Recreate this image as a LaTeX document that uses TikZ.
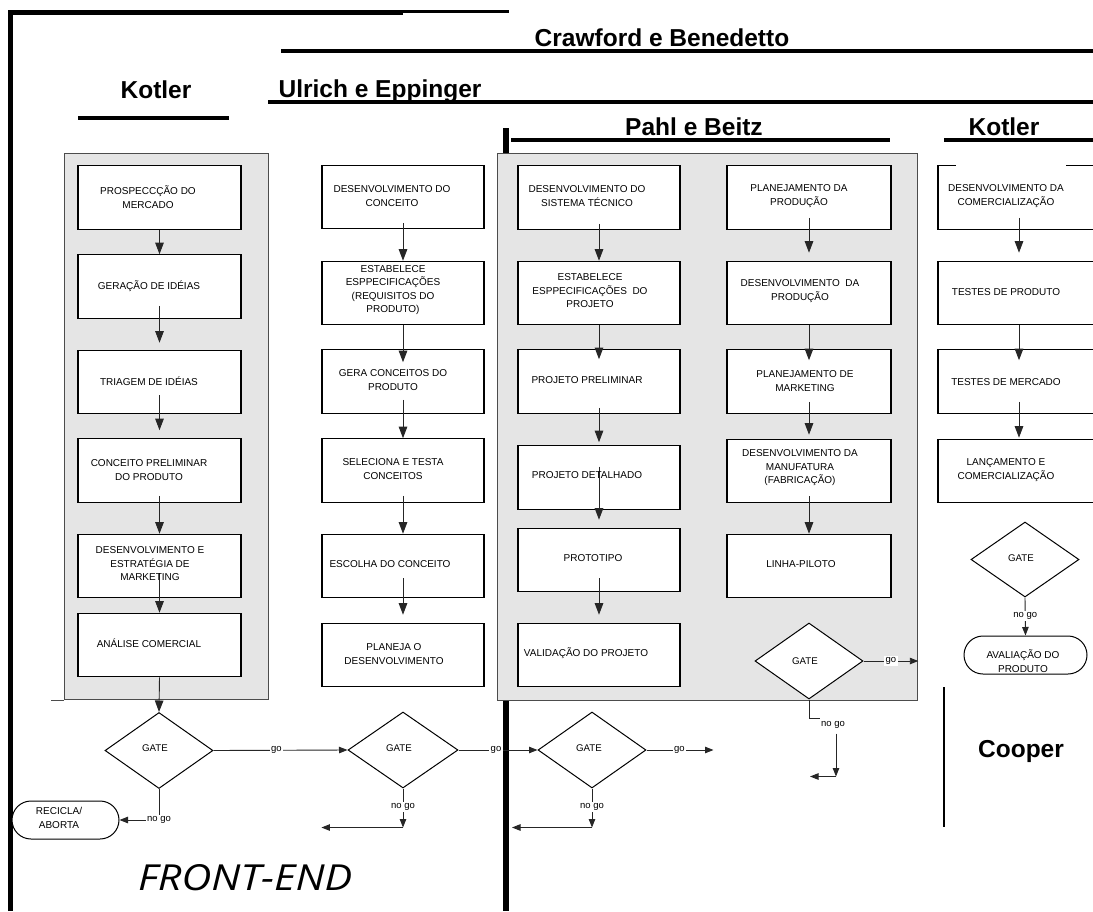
\documentclass[tikz,border=0pt]{standalone}
\usepackage{fontspec}
\usepackage{graphicx}
\setmainfont{Liberation Sans}
\newfontfamily\handfont{Open Sans}
\usetikzlibrary{arrows.meta,shapes.geometric,calc}

\tikzset{
  procbox/.style={draw=black, line width=1.1pt, fill=white, minimum width=163pt,
    minimum height=63.5pt, inner sep=0pt},
  steptext/.style={font=\fontsize{10}{13.5}\selectfont, align=center, inner sep=0pt},
  gatetext/.style={font=\fontsize{9.7}{12}\selectfont, inner sep=0pt},
  gate/.style={diamond, draw=black, line width=1pt, fill=white, minimum width=108pt,
    minimum height=76pt, inner sep=0pt},
  stage/.style={draw=black!70, line width=1.3pt, fill=black!10, inner sep=0pt},
  heading/.style={font=\fontsize{24.5}{28}\selectfont\bfseries, inner sep=0pt},
  headrule/.style={line width=4.5pt},
  flow/.style={draw=black!85, line width=0.9pt, -{Triangle[length=11.5pt,width=8.5pt]}},
  flowsm/.style={draw=black!85, line width=0.9pt, -{Triangle[length=8.5pt,width=6.5pt]}},
  plainline/.style={draw=black!85, line width=0.9pt},
  golabel/.style={font=\fontsize{9.5}{10}\selectfont, fill=white, inner sep=1.5pt},
  term/.style={draw=black, line width=1pt, rounded corners=19pt, minimum width=107pt,
    minimum height=38pt, inner sep=0pt, fill=white},
}

\begin{document}
\begin{tikzpicture}[x=1pt,y=-1pt]
\useasboundingbox (0,0) rectangle (1093,911);

% outer frame and the heavy divider
\draw[line width=5pt] (10.5,911) -- (10.5,12.5) -- (403,12.5);
\draw[line width=2.7pt] (403,11.35) -- (509,11.35);
\draw[line width=5.5pt] (506,128) -- (506,911);

% headings with their rules
\node[heading, anchor=base] (crawford) at (662,46) {Crawford e Benedetto};
\draw[headrule] (281,51) -- (1100,51);
\node[heading, anchor=base] (ulrich) at (380,97) {Ulrich e Eppinger};
\draw[headrule] (268,102) -- (1100,102);
\node[heading, anchor=base] (kotlerA) at (156,98) {Kotler};
\draw[headrule] (78,118) -- (229,118);
\node[heading, anchor=base] (pahl) at (694,135) {Pahl e Beitz};
\draw[headrule] (511,140) -- (890,140);
\node[heading, anchor=base] (kotlerB) at (1004,135) {Kotler};
\draw[headrule] (944,140) -- (1100,140);

% shaded stages
\node[stage, minimum width=204pt, minimum height=546pt, anchor=north west] (kotlerstage) at (64,153) {};
\draw[draw=black!70, line width=1.3pt] (kotlerstage.south west) -- ++(-13,0);
\node[stage, minimum width=420pt, minimum height=547pt, anchor=north west] (pahlstage) at (497,153) {};

% Kotler column boxes
\node[procbox] (k1) at (159.5,197.5) {};
\node[procbox] (k2) at (159.5,286.5) {};
\node[procbox] (k3) at (159.5,382) {};
\node[procbox] (k4) at (159.5,470.5) {};
\node[procbox] (k5) at (159.5,566) {};
\node[procbox] (k6) at (159.5,645) {};

% Ulrich column boxes
\node[procbox, minimum width=162pt] (u1) at (403,197) {};
\node[procbox, minimum width=162pt] (u2) at (403,293) {};
\node[procbox, minimum width=162pt] (u3) at (403,381.5) {};
\node[procbox, minimum width=162pt] (u4) at (403,470.5) {};
\node[procbox, minimum width=162pt] (u5) at (403,566) {};
\node[procbox, minimum width=162pt] (u6) at (403,655) {};

% Pahl column A
\node[procbox, minimum width=162pt] (a1) at (599,197.5) {};
\node[procbox, minimum width=162pt] (a2) at (599,293) {};
\node[procbox, minimum width=162pt] (a3) at (599,381.5) {};
\node[procbox, minimum width=162pt] (a4) at (599,477.5) {};
\node[procbox, minimum width=162pt] (a5) at (599,560) {};
\node[procbox, minimum width=162pt] (a6) at (599,655) {};

% Pahl column B
\node[procbox, minimum width=164pt] (b1) at (809,197.5) {};
\node[procbox, minimum width=164pt] (b2) at (809,293) {};
\node[procbox, minimum width=164pt] (b3) at (809,381.5) {};
\node[procbox, minimum width=164pt] (b4) at (809,471) {};
\node[procbox, minimum width=164pt] (b5) at (809,566) {};

% Kotler (commercial) column
\node[procbox, minimum width=162pt] (r1) at (1019,197.5) {};
\node[procbox, minimum width=162pt] (r2) at (1019,293) {};
\node[procbox, minimum width=162pt] (r3) at (1019,381.5) {};
\node[procbox, minimum width=162pt] (r4) at (1019,471) {};
\draw[white, line width=1.6pt] ($(r1.north west)+(19,0)$) -- ($(r1.north west)+(129,0)$);

% flow arrows
\draw[flow] (k1.south) -- (k2.north);
\draw[flow] ($(k2.south)+(0,-13)$) -- ($(k3.north)+(0,-7)$);
\draw[flow] ($(k3.south)+(0,-19)$) -- ($(k4.north)+(0,-8)$);
\draw[flow] ($(k4.south)+(0,-7)$) -- (k5.north);
\draw[flow] ($(k5.south)+(0,-25)$) -- (k6.north);

\draw[flow] ($(u1.south)+(0,-6)$) -- (u2.north);
\draw[flow] (u2.south) -- ($(u3.north)+(0,13)$);
\draw[flow] ($(u3.south)+(0,-14)$) -- (u4.north);
\draw[flow] ($(u4.south)+(0,-7)$) -- (u5.north);
\draw[flow] ($(u5.south)+(0,-20)$) -- ($(u6.north)+(0,-8)$);

\draw[flow] ($(a1.south)+(0,-6)$) -- (a2.north);
\draw[flow] (a2.south) -- ($(a3.north)+(0,10)$);
\draw[flow] ($(a3.south)+(0,-6)$) -- ($(a4.north)+(0,-3)$);
\draw[flow] ($(a4.center)+(0,-11)$) -- ($(a5.north)+(0,-8)$);
\draw[flow] ($(a5.south)+(0,-14)$) -- ($(a6.north)+(0,-8)$);

\draw[flow] ($(b1.south)+(0,-12)$) -- ($(b2.north)+(0,-8)$);
\draw[flow] (b2.south) -- ($(b3.north)+(0,11)$);
\draw[flow] ($(b3.south)+(0,-12)$) -- ($(b4.north)+(0,-4)$);
\draw[flow] ($(b4.south)+(0,-7)$) -- (b5.north);

\draw[flow] ($(r1.south)+(0,-12)$) -- ($(r2.north)+(0,-8)$);
\draw[flow] (r2.south) -- ($(r3.north)+(0,11)$);
\draw[flow] ($(r3.south)+(0,-12)$) -- ($(r4.north)+(0,-1)$);

% box texts
\node[steptext] (k1t) at (148,197) {PROSPECCÇÃO DO\\MERCADO};
\node[steptext] (k2t) at (149,286) {GERAÇÃO DE IDÉIAS};
\node[steptext] (k3t) at (149,381) {TRIAGEM DE IDÉIAS};
\node[steptext] (k4t) at (149,470) {CONCEITO PRELIMINAR\\DO PRODUTO};
\node[steptext] (k5t) at (150,564) {DESENVOLVIMENTO E\\ESTRATÉGIA DE\\MARKETING};
\node[steptext] (k6t) at (149,643) {ANÁLISE COMERCIAL};

\node[steptext] (u1t) at (392,196) {DESENVOLVIMENTO DO\\CONCEITO};
\node[steptext] (u2t) at (393,290) {ESTABELECE\\ESPPECIFICAÇÕES\\(REQUISITOS DO\\PRODUTO)};
\node[steptext] (u3t) at (393,380) {GERA CONCEITOS DO\\PRODUTO};
\node[steptext] (u4t) at (393,469) {SELECIONA E TESTA\\CONCEITOS};
\node[steptext] (u5t) at (390,564) {ESCOLHA DO CONCEITO};
\node[steptext] (u6t) at (394,654) {PLANEJA O\\DESENVOLVIMENTO};

\node[steptext] (a1t) at (587,196) {DESENVOLVIMENTO DO\\SISTEMA TÉCNICO};
\node[steptext] (a2t) at (590,291) {ESTABELECE\\ESPPECIFICAÇÕES\ \ DO\\PROJETO};
\node[steptext] (a3t) at (587,380) {PROJETO PRELIMINAR};
\node[steptext] (a4t) at (587,475) {PROJETO DETALHADO};
\node[steptext] (a5t) at (593,558) {PROTOTIPO};
\node[steptext] (a6t) at (586,653) {VALIDAÇÃO DO PROJETO};

\node[steptext] (b1t) at (799,196) {PLANEJAMENTO DA\\PRODUÇÃO};
\node[steptext] (b2t) at (800,291) {DESENVOLVIMENTO\ \ DA\\PRODUÇÃO};
\node[steptext] (b3t) at (805,381) {PLANEJAMENTO DE\\MARKETING};
\node[steptext] (b4t) at (800,468) {DESENVOLVIMENTO DA\\MANUFATURA\\(FABRICAÇÃO)};
\node[steptext] (b5t) at (801,564) {LINHA-PILOTO};

\node[steptext] (r1t) at (1006,196) {DESENVOLVIMENTO DA\\COMERCIALIZAÇÃO};
\node[steptext] (r2t) at (1006,292) {TESTES DE PRODUTO};
\node[steptext] (r3t) at (1006,382) {TESTES DE MERCADO};
\node[steptext] (r4t) at (1006,470) {LANÇAMENTO E\\COMERCIALIZAÇÃO};

% gates
\node[gate] (g1) at (159,750.5) {};
\node[gate, minimum width=110pt] (g2) at (403,750) {};
\node[gate] (g3) at (592,750) {};
\node[gate] (g4) at (809,661) {};
\node[gate, minimum height=75pt] (g5) at (1025,559.5) {};
\node[gatetext] (g1t) at (155,748) {GATE};
\node[gatetext] (g2t) at (399,748) {GATE};
\node[gatetext] (g3t) at (589,748) {GATE};
\node[gatetext] (g4t) at (805,661) {GATE};
\node[gatetext] (g5t) at (1021,558) {GATE};

\draw[flow] (k6.south) -- (g1.north);

% terminals
\node[term] (rec) at (65.5,820) {};
\node[steptext] (rect) at (59,818) {RECICLA/\\ABORTA};
\node[term, minimum width=123pt] (ava) at (1025.5,655) {};
\node[steptext] (avat) at (1023,661) {AVALIAÇÃO DO\\PRODUTO};

% go branches
\draw[flowsm] (g1.east) -- node[golabel, pos=0.47] (go1) {go} (g2.west);
\draw[flowsm] (g2.east) -- node[golabel, pos=0.475] (go2) {go} (g3.west);
\coordinate (g3out) at ($(g3.east)+(67,0)$);
\draw[flowsm] (g3.east) -- node[golabel, pos=0.49] (go3) {go} (g3out);
\draw[flowsm] (g4.east) -- node[golabel, pos=0.5] (go4) {go} (pahlstage.east |- g4.east);

% no-go branches
\draw[flowsm] (g1.south) |- node[golabel, pos=0.5] (ng1) {no go} (rec.east);

\coordinate (g2turn) at ($(g2.south)+(0,39)$);
\coordinate (g2back) at (u6.west |- g2turn);
\draw[flowsm] (g2.south) -- node[golabel, pos=0.47] (ng2) {no go} (g2turn);
\draw[flowsm] (g2turn) -- (g2back);

\coordinate (g3turn) at ($(g3.south)+(0,39)$);
\coordinate (g3back) at ($(g3turn)+(-80,0)$);
\draw[flowsm] (g3.south) -- node[golabel, pos=0.47] (ng3) {no go} (g3turn);
\draw[flowsm] (g3turn) -- (g3back);

\coordinate (g4a) at ($(g4.south)+(0,19)$);
\coordinate (g4b) at ($(g4a)+(11,0)$);
\draw[plainline] (g4.south) -- (g4a) -- (g4b);
\node[golabel] (ng4) at ($(g4a)+(24,6)$) {no go};
\coordinate (g4c) at ($(g4.south)+(27,34)$);
\coordinate (g4d) at ($(g4c)+(0,43)$);
\coordinate (g4e) at ($(g4d)+(-26,0)$);
\draw[flowsm] (g4c) -- (g4d);
\draw[flowsm] (g4d) -- (g4e);

\draw[flowsm] (g5.south) -- node[golabel, pos=0.49] (ng5) {no go} (ava.north);

% Cooper
\draw[line width=1.3pt] (944,687) -- (944,827);
\node[heading, anchor=base] (cooper) at (1021,757) {Cooper};

% front-end caption
\node[anchor=base west, inner sep=0pt] (frontend) at (138,890)
  {\resizebox{214pt}{26pt}{\handfont\itshape FRONT-END}};

\end{tikzpicture}
\end{document}
